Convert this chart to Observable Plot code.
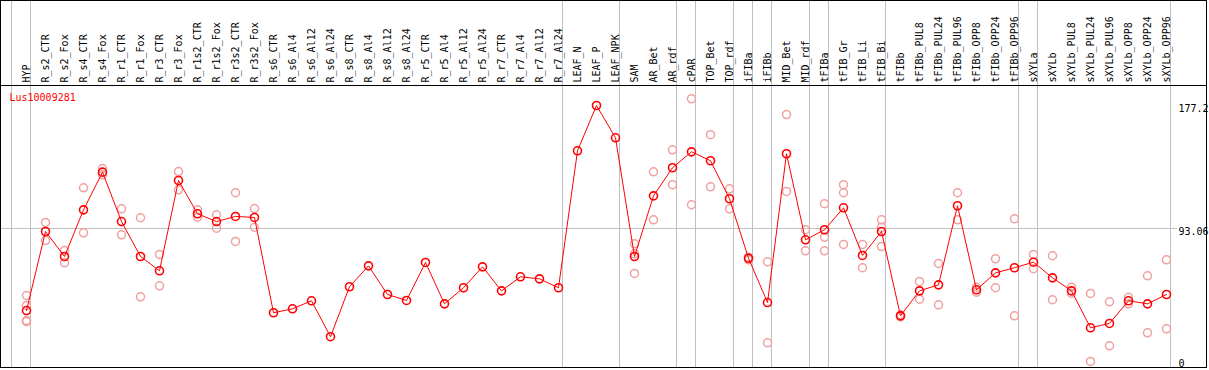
<!DOCTYPE html>
<html><head><meta charset="utf-8">
<script src="https://cdn.jsdelivr.net/npm/d3@7"></script>
<script src="https://cdn.jsdelivr.net/npm/@observablehq/plot@0.6"></script>
<style>body{margin:0;background:#fff}</style>
</head><body><div id="chart"></div>
<script>
const gene = "Lus10009281";
const samples = ["HYP","R_s2_CTR","R_s2_Fox","R_s4_CTR","R_s4_Fox","R_r1_CTR","R_r1_Fox","R_r3_CTR","R_r3_Fox","R_r1s2_CTR","R_r1s2_Fox","R_r3s2_CTR","R_r3s2_Fox","R_s6_CTR","R_s6_Al4","R_s6_Al12","R_s6_Al24","R_s8_CTR","R_s8_Al4","R_s8_Al12","R_s8_Al24","R_r5_CTR","R_r5_Al4","R_r5_Al12","R_r5_Al24","R_r7_CTR","R_r7_Al4","R_r7_Al12","R_r7_Al24","LEAF_N","LEAF_P","LEAF_NPK","SAM","AR_Bet","AR_rdf","cPAR","TOP_Bet","TOP_rdf","iFIBa","iFIBb","MID_Bet","MID_rdf","tFIBa","tFIB_Gr","tFIB_Li","tFIB_Bi","tFIBb","tFIBb_PUL8","tFIBb_PUL24","tFIBb_PUL96","tFIBb_OPP8","tFIBb_OPP24","tFIBb_OPP96","sXYLa","sXYLb","sXYLb_PUL8","sXYLb_PUL24","sXYLb_PUL96","sXYLb_OPP8","sXYLb_OPP24","sXYLb_OPP96"];
const means = [36.9, 91.0, 73.9, 105.8, 131.6, 97.8, 73.9, 64.1, 125.9, 103.1, 97.8, 101.3, 100.6,
  35.4, 38.1, 43.6, 19.0, 53.2, 67.5, 47.9, 43.8, 69.8, 41.5, 52.5, 66.8, 50.4, 60.0, 58.6, 52.5,
  146.2, 177.2, 155.1,
  73.9, 115.4, 134.6, 145.5, 139.4, 113.4, 72.7, 42.4, 144.2, 85.3, 92.2, 107.2, 74.6, 91.0,
  33.3, 50.4, 54.5, 108.6, 51.1, 62.7, 66.2, 70.0, 59.3, 50.4, 25.1, 28.1, 43.6, 41.5, 47.9];
const replicates = [
  [47.2, 40.4, 30.1, 29.4], [97.2, 84.8], [78.0, 69.6], [120.9, 90.1], [134.1, 129.8],
  [106.5, 88.7], [100.4, 46.3], [75.3, 53.8], [132.0, 119.5], [105.8, 100.8],
  [102.4, 93.3], [117.5, 84.2], [106.7, 93.9],
  [], [], [], [], [], [], [], [], [], [], [], [], [], [], [], [],
  [], [], [],
  [82.6, 75.7, 62.3], [131.8, 99.0], [146.9, 123.0], [181.8, 109.3], [157.2, 121.6],
  [120.2, 106.5], [73.4, 71.6], [70.3, 14.8], [171.0, 118.4], [92.2, 77.8],
  [110.0, 87.1, 77.8], [123.0, 117.5, 82.1], [82.1, 66.2], [99.0, 93.9, 80.7],
  [34.0, 32.6], [56.8, 44.7], [69.1, 40.8], [117.5, 99.0], [52.9, 49.5],
  [72.3, 52.5], [99.7, 33.3], [75.3, 65.5], [74.4, 44.3], [52.9, 48.8],
  [48.6, 2.1], [42.9, 12.8], [46.0, 41.5], [60.7, 21.7], [71.6, 24.4]];
const yTicks = [0, 93.06, 177.2];
const groupEnds = ["HYP","R_r7_Al24","LEAF_NPK","AR_rdf","cPAR","TOP_rdf","iFIBa","iFIBb","MID_rdf","tFIBa","tFIB_Bi","tFIBb_OPP96","sXYLa","sXYLb_OPP96"];

const meanData = samples.map((s, i) => ({sample: s, value: means[i]}));
const repData = samples.flatMap((s, i) => replicates[i].map(v => ({sample: s, value: v})));

const chart = Plot.plot({
  width: 1209, height: 370,
  marginTop: 85, marginBottom: 3, marginLeft: 0, marginRight: 3,
  style: {fontFamily: "DejaVu Sans Mono", fontSize: "10px", background: "#fff", color: "#000"},
  x: {type: "point", domain: samples, range: [26, 1166], padding: 0},
  y: {domain: [0, 177.2], range: [364, 105], axis: null},
  marks: [
    Plot.ruleX(groupEnds, {stroke: "#c0c0c0", strokeOpacity: 1, dx: 4, insetTop: -85}),
    Plot.ruleX([samples[0]], {stroke: "#c0c0c0", strokeOpacity: 1, dx: -15, insetTop: -85}),
    Plot.ruleY([yTicks[1]], {stroke: "#c0c0c0", strokeOpacity: 1, insetRight: 29}),
    Plot.frame({stroke: "#000", insetTop: -85}),
    Plot.frame({anchor: "top", stroke: "#000"}),
    Plot.axisX({anchor: "top", tickRotate: -90, tickSize: 0, tickPadding: 3, label: null, fontSize: 10, fill: "#000"}),
    Plot.text(yTicks.slice(1), {y: d => d, text: d => String(d), frameAnchor: "right", textAnchor: "start", dx: -28, lineAnchor: "top", dy: -1, fill: "#000"}),
    Plot.text(yTicks.slice(0, 1), {y: d => d, text: d => String(d), frameAnchor: "right", textAnchor: "start", dx: -28, lineAnchor: "bottom", dy: 2, fill: "#000"}),
    Plot.text([gene], {frameAnchor: "top-left", dx: 9, dy: 8, lineAnchor: "top", textAnchor: "start", fill: "#ff0000"}),
    Plot.dot(repData, {x: "sample", y: "value", r: 4, stroke: "#f0a0a0", strokeWidth: 1.5, fill: "none"}),
    Plot.line(meanData, {x: "sample", y: "value", stroke: "#ff0000", strokeWidth: 1}),
    Plot.dot(meanData, {x: "sample", y: "value", r: 4, stroke: "#ff0000", strokeWidth: 1.6, fill: "none"})
  ]
});
document.getElementById("chart").appendChild(chart);
</script>
</body></html>
